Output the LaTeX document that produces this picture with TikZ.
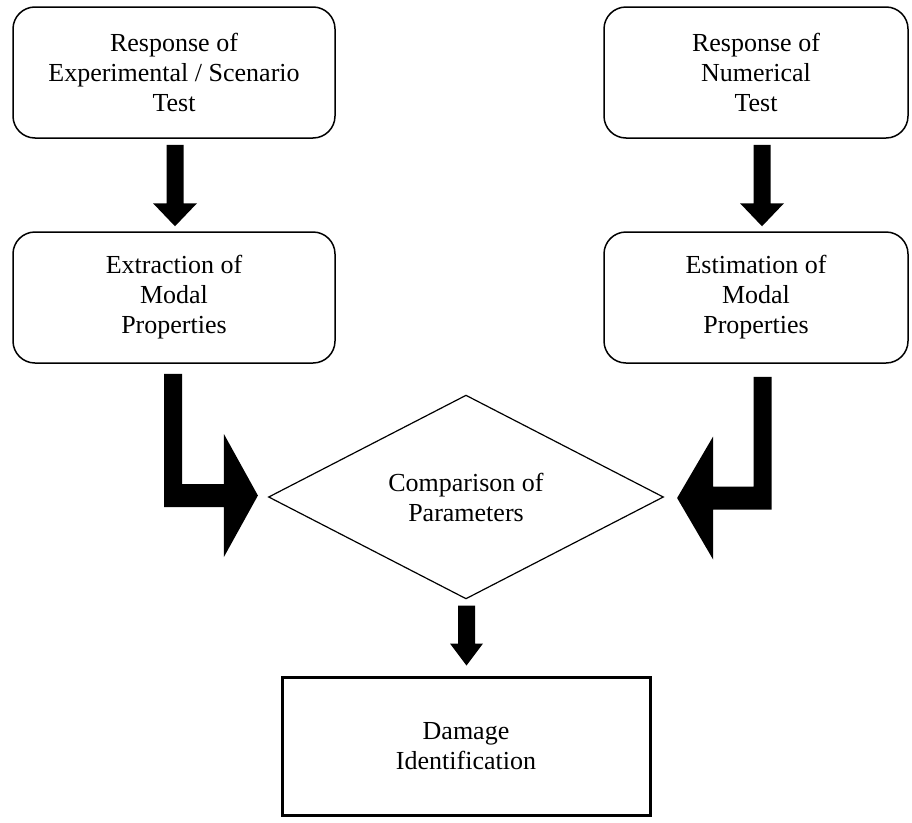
\documentclass[tikz,border=0pt]{standalone}
\usepackage{fontspec}
\setmainfont{Liberation Serif}
\usetikzlibrary{shapes.geometric,calc}
\begin{document}
\begin{tikzpicture}[x=1pt,y=-1pt,
  txt/.style={align=center,font=\fontsize{26}{30}\selectfont},
  roundbox/.style={draw,line width=1.5pt,rounded corners=22pt,txt,
    minimum height=131pt,inner sep=0pt},
  blockfill/.style={fill=black,draw=none}]
\useasboundingbox (0,0) rectangle (912,822);

% process boxes
\node[roundbox,minimum width=322pt] (resp) at (174,72.5)
  {Response of\\Experimental / Scenario\\Test};
\node[roundbox,minimum width=304pt] (num) at (756,72.5)
  {Response of\\Numerical\\Test};
\node[roundbox,minimum width=322pt] (extr) at (174,297.5)
  {Extraction of\\Modal\\Properties};
\node[roundbox,minimum width=304pt] (est) at (756,297.5)
  {Estimation of\\Modal\\Properties};

% decision and result
\node[draw,diamond,line width=1.2pt,txt,minimum width=395pt,
  minimum height=164pt,inner sep=0pt] (cmp) at (466,497)
  {Comparison of\\Parameters};
\node[draw,line width=3pt,txt,minimum width=368pt,minimum height=138pt,
  inner sep=0pt] (dmg) at (466,746) {Damage\\Identification};

% straight block arrows
\coordinate (a1s) at ($(resp.south)+(1,6)$);
\coordinate (a1t) at ($(extr.north)+(1,-5)$);
\fill[blockfill] ($(a1s)+(-8.5,0)$) -- ($(a1s)+(8.5,0)$) -- ($(a1t)+(8.5,-23)$)
  -- ($(a1t)+(22,-23)$) -- (a1t) -- ($(a1t)+(-22,-23)$) -- ($(a1t)+(-8.5,-23)$) -- cycle;

\coordinate (a2s) at ($(num.south)+(6,6)$);
\coordinate (a2t) at ($(est.north)+(6,-5)$);
\fill[blockfill] ($(a2s)+(-8.5,0)$) -- ($(a2s)+(8.5,0)$) -- ($(a2t)+(8.5,-23)$)
  -- ($(a2t)+(22,-23)$) -- (a2t) -- ($(a2t)+(-22,-23)$) -- ($(a2t)+(-8.5,-23)$) -- cycle;

\coordinate (a3s) at ($(cmp.south)+(0.5,6)$);
\coordinate (a3t) at ($(dmg.north)+(0.5,-10)$);
\fill[blockfill] ($(a3s)+(-8.5,0)$) -- ($(a3s)+(8.5,0)$) -- ($(a3t)+(8.5,-22)$)
  -- ($(a3t)+(16.5,-22)$) -- (a3t) -- ($(a3t)+(-16.5,-22)$) -- ($(a3t)+(-8.5,-22)$) -- cycle;

% bent block arrows into the decision
\coordinate (ls) at ($(extr.south)+(-1,10)$);
\coordinate (lt) at ($(cmp.west)+(-10,-1.5)$);
\coordinate (lc) at (ls |- lt);
\fill[blockfill] ($(ls)+(-9,0)$) -- ($(ls)+(9,0)$) -- ($(lc)+(9,-11.5)$)
  -- ($(lt)+(-34,-11.5)$) -- ($(lt)+(-34,-61.5)$) -- (lt) -- ($(lt)+(-34,61.5)$)
  -- ($(lt)+(-34,11.5)$) -- ($(lc)+(-9,11.5)$) -- cycle;

\coordinate (rs) at ($(est.south)+(6.5,13)$);
\coordinate (rt) at ($(cmp.east)+(13,1)$);
\coordinate (rc) at (rs |- rt);
\fill[blockfill] ($(rs)+(9,0)$) -- ($(rs)+(-9,0)$) -- ($(rc)+(-9,-11.5)$)
  -- ($(rt)+(36,-11.5)$) -- ($(rt)+(36,-61.5)$) -- (rt) -- ($(rt)+(36,61.5)$)
  -- ($(rt)+(36,11.5)$) -- ($(rc)+(9,11.5)$) -- cycle;
\end{tikzpicture}
\end{document}
